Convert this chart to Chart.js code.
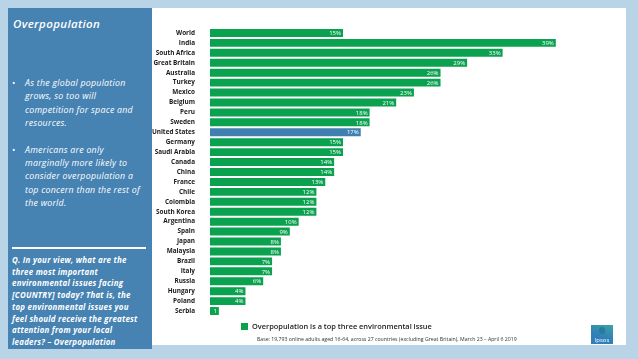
<!DOCTYPE html>
<html>
<head>
<meta charset="utf-8">
<script src="https://cdn.jsdelivr.net/npm/chart.js@4/dist/chart.umd.min.js"></script>
<style>
  body { margin: 0; width: 638px; height: 359px; background: #b9d4e7; position: relative; overflow: hidden; font-family: "Open Sans", sans-serif; }
  #white { position: absolute; left: 8px; top: 8px; width: 618px; height: 337px; background: #ffffff; }
  #side { position: absolute; left: 8px; top: 8px; width: 144px; height: 341px; background: #4682b2; color: #fff; }
  #side h1 { position: absolute; left: 5px; top: 8px; margin: 0; font-size: 11.5px; letter-spacing: 0.35px; font-style: italic; font-weight: 600; }
  #side ul { position: absolute; left: 4px; top: 69px; margin: 0; padding: 0; list-style: none; font-size: 8.8px; letter-spacing: 0.25px; font-style: italic; line-height: 13.3px; }
  #side li { position: relative; padding-left: 13px; margin-bottom: 13.5px; }
  #side li::before { content: "\2022"; position: absolute; left: 0; font-style: normal; }
  #rule { position: absolute; left: 4px; top: 239px; width: 134px; height: 2px; background: #fff; }
  #q { position: absolute; left: 4px; top: 247px; font-size: 7.9px; letter-spacing: 0.25px; font-style: italic; font-weight: 700; line-height: 11.7px; }
  #chartBox { position: absolute; left: 152px; top: 8px; width: 474px; height: 320px; }
  #legend { position: absolute; left: 241px; top: 321px; font-size: 7.4px; font-weight: 600; color: #222; white-space: nowrap; }
  #legend span { display: inline-block; width: 7px; height: 7px; background: #0aa14f; margin-right: 4px; vertical-align: -1px; }
  #base { position: absolute; left: 257px; top: 335px; font-size: 5.2px; color: #333; white-space: nowrap; }
  #logo { position: absolute; left: 591px; top: 325px; width: 22px; height: 19px; background: linear-gradient(200deg, #3aa3a6, #2f7fb8 60%); color: #fff; font-size: 6px; text-align: center; }
  #logo i { position: absolute; left: 8px; top: 2px; width: 6px; height: 7px; border-radius: 50%; background: #2a7a9c; }
  #logo b { position: absolute; left: 0; right: 0; bottom: 0; font-weight: 400; }
</style>
</head>
<body>
<div id="white"></div>
<div id="side">
  <h1>Overpopulation</h1>
  <ul>
    <li>As the global population<br>grows, so too will<br>competition for space and<br>resources.</li>
    <li>Americans are only<br>marginally more likely to<br>consider overpopulation a<br>top concern than the rest of<br>the world.</li>
  </ul>
  <div id="rule"></div>
  <div id="q">Q. In your view, what are the<br>three most important<br>environmental issues facing<br>[COUNTRY] today? That is, the<br>top environmental issues you<br>feel should receive the greatest<br>attention from your local<br>leaders? – Overpopulation</div>
</div>
<div id="chartBox"><canvas id="grafico"></canvas></div>
<div id="legend"><span></span>Overpopulation is a top three environmental issue</div>
<div id="base">Base: 19,793 online adults aged 16-64, across 27 countries (excluding Great Britain), March 23 – April 6 2019</div>
<div id="logo"><i></i><b>Ipsos</b></div>

<script>
var paises = ["World", "India", "South Africa", "Great Britain", "Australia", "Turkey", "Mexico", "Belgium", "Peru", "Sweden",
    "United States", "Germany", "Saudi Arabia", "Canada", "China", "France", "Chile", "Colombia", "South Korea", "Argentina",
    "Spain", "Japan", "Malaysia", "Brazil", "Italy", "Russia", "Hungary", "Poland", "Serbia"];
var valores = [15, 39, 33, 29, 26, 26, 23, 21, 18, 18, 17, 15, 15, 14, 14, 13, 12, 12, 12, 10, 9, 8, 8, 7, 7, 6, 4, 4, 1];
var rotulos = ["15%", "39%", "33%", "29%", "26%", "26%", "23%", "21%", "18%", "18%", "17%", "15%", "15%", "14%", "14%", "13%",
    "12%", "12%", "12%", "10%", "9%", "8%", "8%", "7%", "7%", "6%", "4%", "4%", "1"];
var destaque = "United States";

// cores: verde para todos, azul para os EUA
var cores = paises.map(function (p) { return p === destaque ? "#3f80b0" : "#0aa14f"; });

var rotuloPlugin = {
    id: "rotulos",
    afterDatasetsDraw: function (chart) {
        var ctx = chart.ctx;
        var meta = chart.getDatasetMeta(0);
        ctx.save();
        ctx.fillStyle = "#ffffff";
        ctx.font = "6px 'Open Sans'";
        ctx.textAlign = "right";
        ctx.textBaseline = "middle";
        meta.data.forEach(function (bar, i) {
            ctx.fillText(rotulos[i], bar.x - 2, bar.y + 0.5);
        });
        ctx.restore();
    }
};

function gerarGrafico() {
    var ctx = document.getElementById("grafico").getContext("2d");
    new Chart(ctx, {
        type: "bar",
        data: {
            labels: paises,
            datasets: [{
                label: "Overpopulation is a top three environmental issue",
                data: valores,
                backgroundColor: cores,
                barPercentage: 0.8,
                categoryPercentage: 1
            }]
        },
        options: {
            indexAxis: "y",
            responsive: true,
            maintainAspectRatio: false,
            animation: false,
            layout: { padding: { top: 20, bottom: 12, right: 17, left: 0 } },
            plugins: { legend: { display: false }, tooltip: { enabled: false } },
            scales: {
                x: { display: false, min: 0, max: 45 },
                y: {
                    grid: { display: false },
                    border: { display: false },
                    afterFit: function (scale) { scale.width = 58; },
                    ticks: {
                        padding: 7,
                        color: "#1a1a1a",
                        font: { family: "Open Sans", size: 6.4, weight: "bold" },
                        autoSkip: false
                    }
                }
            }
        },
        plugins: [rotuloPlugin]
    });
}
gerarGrafico();
</script>
</body>
</html>
